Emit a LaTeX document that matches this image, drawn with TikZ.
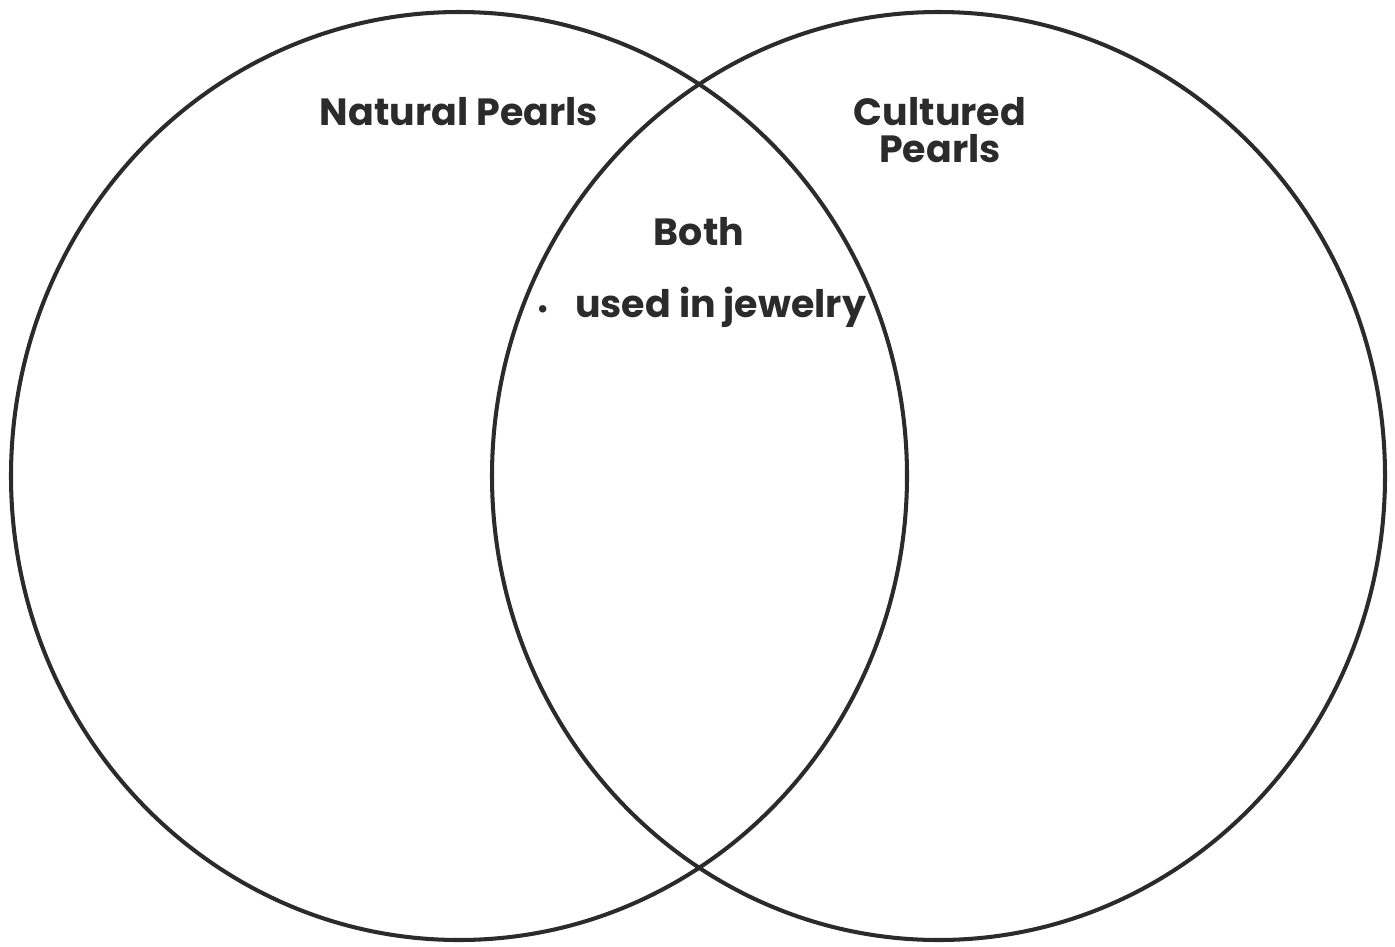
\documentclass[tikz,border=0pt]{standalone}
\usepackage{fontspec}
\setmainfont{Poppins}
\usetikzlibrary{shapes.geometric,positioning}
\definecolor{inkgray}{HTML}{2B2B2B}

\begin{document}
\begin{tikzpicture}[
  ring/.style={ellipse,draw=inkgray,line width=1.15pt,inner sep=0pt,minimum width=8.96cm,minimum height=9.28cm},
  title/.style={font=\fontsize{10.8}{10.4}\selectfont\bfseries,text=inkgray,align=center,inner sep=0pt},
  entry/.style={title,anchor=west}
]
\useasboundingbox (0,0) rectangle (13.95,9.46);
\node[ring] (natural) at (4.59,4.70) {};
\node[ring,minimum width=8.93cm] (cultured) at (9.385,4.70) {};

\node[title] (naturallabel) at (4.59,8.34) {Natural Pearls};
\node[title] (culturedlabel) at (9.40,8.16) {Cultured\\Pearls};
\node[title] (both) at (6.99,7.14) {Both};
\node[entry] (jewelry) at (5.36,6.39) {{\fontsize{7}{7}\selectfont\textbullet}\hspace{2.6mm}used in jewelry};
\end{tikzpicture}
\end{document}
